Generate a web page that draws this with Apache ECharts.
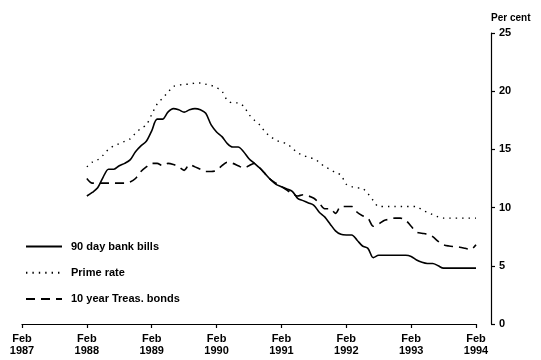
<!DOCTYPE html>
<html>
<head>
<meta charset="utf-8">
<script src="https://cdn.jsdelivr.net/npm/echarts@6/dist/echarts.min.js"></script>
<style>html,body{margin:0;padding:0;background:#fff}#c{width:541px;height:360px}</style>
</head>
<body>
<div id="c"></div>
<script>
// Months counted from Feb 1987 (0) ; data monthly from Feb 1988 (12) to Feb 1994 (84)
var startMonth = 12;
var xTickLabels = ['Feb\n1987','Feb\n1988','Feb\n1989','Feb\n1990','Feb\n1991','Feb\n1992','Feb\n1993','Feb\n1994'];
var yTicks = [0, 5, 10, 15, 20, 25];
var seriesNames = ['90 day bank bills', 'Prime rate', '10 year Treas. bonds'];

var bankBills = [11.0,11.3,11.7,12.6,13.3,13.3,13.6,13.8,14.1,14.8,15.3,15.7,
  16.6,17.6,17.6,18.2,18.5,18.4,18.2,18.4,18.5,18.4,18.1,17.1,
  16.5,16.1,15.5,15.2,15.2,14.8,14.2,13.8,13.4,12.9,12.4,12.0,
  11.8,11.6,11.4,10.8,10.6,10.4,10.2,9.6,9.2,8.6,8.0,7.7,
  7.65,7.65,7.2,6.7,6.5,5.7,5.9,5.9,5.9,5.9,5.9,5.9,
  5.8,5.5,5.3,5.2,5.2,5.0,4.8,4.8,4.8,4.8,4.8,4.8,4.8];

var primeRate = [13.5,13.9,14.1,14.5,15.0,15.3,15.5,15.7,15.9,16.4,16.8,17.1,
  18.0,18.9,19.4,19.9,20.4,20.5,20.6,20.6,20.7,20.7,20.6,20.5,
  20.3,20.0,19.2,19.0,19.0,18.7,18.0,17.5,17.1,16.5,16.1,15.8,
  15.6,15.5,15.1,14.7,14.5,14.3,14.2,13.9,13.5,13.3,13.0,12.8,
  12.0,11.8,11.7,11.65,11.2,10.6,10.1,10.1,10.1,10.1,10.1,10.1,
  10.1,10.1,9.8,9.6,9.4,9.2,9.1,9.1,9.1,9.1,9.1,9.1,9.1];

var treasBonds = [12.5,12.1,12.1,12.1,12.1,12.1,12.1,12.1,12.2,12.5,13.1,13.5,
  13.8,13.8,13.6,13.8,13.7,13.5,13.2,13.7,13.5,13.3,13.1,13.1,
  13.2,13.6,13.9,13.8,13.6,13.4,13.6,13.8,13.4,12.9,12.4,12.1,
  11.8,11.5,11.2,11.0,11.1,11.0,10.8,10.4,9.9,9.9,9.5,10.1,
  10.1,10.1,9.6,9.3,9.1,8.4,8.6,8.9,9.0,9.1,9.1,8.9,
  8.4,7.9,7.8,7.7,7.5,7.1,6.8,6.7,6.65,6.6,6.5,6.4,6.8];

function toPairs(arr){ return arr.map(function(v,i){ return [startMonth + i, v]; }); }

var font = "'Liberation Sans', Arial, sans-serif";
var chart = echarts.init(document.getElementById('c'), null, {renderer:'canvas'});
chart.setOption({
  animation: false,
  backgroundColor: '#fff',
  grid: {left: 22, right: 65, top: 33, bottom: 36},
  legend: {
    orient: 'vertical', left: 20, top: 236,
    itemWidth: 36, itemHeight: 14, itemGap: 15,
    itemStyle: {opacity: 0},
    textStyle: {fontFamily: font, fontWeight: 'bold', fontSize: 11, color: '#000', padding: [0,0,0,4]},
    data: seriesNames
  },
  xAxis: {
    type: 'value', min: 0, max: 84, interval: 12,
    axisLine: {onZero: false, lineStyle: {color: '#000', width: 1.2}},
    axisTick: {inside: false, length: 4, lineStyle: {color: '#000', width: 1.2}},
    splitLine: {show: false},
    axisLabel: {
      color: '#000', fontFamily: font, fontWeight: 'bold', fontSize: 11, lineHeight: 12, margin: 9,
      formatter: function(v){ return xTickLabels[Math.round(v/12)] || ''; }
    }
  },
  yAxis: {
    type: 'value', position: 'right', offset: 15, min: 0, max: 25, interval: 5,
    name: 'Per cent', nameLocation: 'end', nameGap: 10,
    nameTextStyle: {color: '#000', fontFamily: font, fontWeight: 'bold', fontSize: 10, align: 'left', padding: [0,0,0,0]},
    axisLine: {show: true, onZero: false, lineStyle: {color: '#000', width: 1.2}},
    axisTick: {show: true, inside: false, length: 4, lineStyle: {color: '#000', width: 1.2}},
    splitLine: {show: false},
    axisLabel: {color: '#000', fontFamily: font, fontWeight: 'bold', fontSize: 11, margin: 8,
      formatter: function(v){ return yTicks.indexOf(v) >= 0 ? String(v) : ''; }}
  },
  series: [
    {name: seriesNames[0], type: 'line', data: toPairs(bankBills), showSymbol: false, symbol: 'none', smooth: 0.3,
     lineStyle: {color: '#000', width: 1.6, type: 'solid'}, itemStyle: {color: '#000'}},
    {name: seriesNames[1], type: 'line', data: toPairs(primeRate), showSymbol: false, symbol: 'none', smooth: 0.3,
     lineStyle: {color: '#000', width: 1.4, type: [1.4, 5]}, itemStyle: {color: '#000'}},
    {name: seriesNames[2], type: 'line', data: toPairs(treasBonds), showSymbol: false, symbol: 'none', smooth: 0.3,
     lineStyle: {color: '#000', width: 1.6, type: [9, 6]}, itemStyle: {color: '#000'}}
  ]
});
</script>
</body>
</html>
